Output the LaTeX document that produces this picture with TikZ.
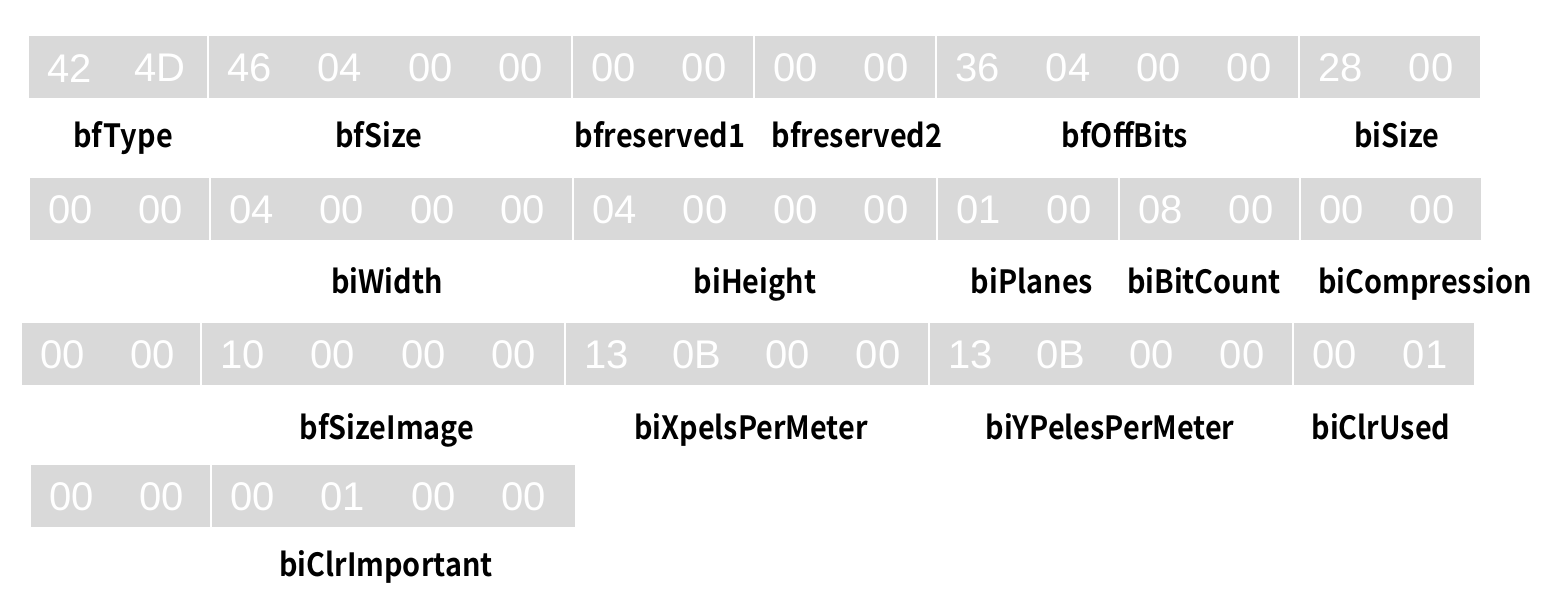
\documentclass[tikz,border=0pt]{standalone}
\usepackage{fontspec}
\usetikzlibrary{calc}
\newfontfamily\bytefont{Liberation Sans}
\newfontfamily\lblfont{Noto Sans CJK KR Bold}[FakeStretch=0.9]
\definecolor{cellgray}{HTML}{D9D9D9}

\tikzset{
  cell/.style={fill=cellgray, draw=none, inner sep=0pt, anchor=north west, minimum height=62pt},
  bytetext/.style={text=white, font=\bytefont\fontsize{40}{40}\selectfont, inner sep=0pt},
  fieldname/.style={text=black, font=\lblfont\fontsize{32}{34}\selectfont, inner sep=0pt, anchor=base},
}

% one field: name, left x, right x, top y, byte values
\newcommand\fieldcell[5]{%
  \node[cell, minimum width={(#3-#2)*1pt}] (#1) at (#2,#4) {};
  \foreach \b [count=\i] in {#5}
    \node[bytetext] (#1-\i) at ($(#1.west)+(\i*90.5-50,1)$) {\b};
}

\begin{document}
\begin{tikzpicture}[x=1pt,y=-1pt]
\useasboundingbox (0,0) rectangle (1548,600);

% row 1
\fieldcell{bfType}{29}{207}{36}{42,4D}
\fieldcell{bfSize}{209}{571}{36}{46,04,00,00}
\fieldcell{bfReservedA}{573}{753}{36}{00,00}
\fieldcell{bfReservedB}{755}{935}{36}{00,00}
\fieldcell{bfOffBits}{937}{1298}{36}{36,04,00,00}
\fieldcell{biSize}{1300}{1480}{36}{28,00}

\node[fieldname] (n-bfType) at (123,147) {bfType};
\node[fieldname] (n-bfSize) at (379,147) {bfSize};
\node[fieldname] (n-bfReservedA) at (660,147) {bfreserved1};
\node[fieldname] (n-bfReservedB) at (857,147) {bfreserved2};
\node[fieldname] (n-bfOffBits) at (1125,147) {bfOffBits};
\node[fieldname] (n-biSize) at (1397,147) {biSize};

% row 2
\fieldcell{biSizeTail}{30}{209}{178}{00,00}
\fieldcell{biWidth}{211}{572}{178}{04,00,00,00}
\fieldcell{biHeight}{574}{936}{178}{04,00,00,00}
\fieldcell{biPlanes}{938}{1118}{178}{01,00}
\fieldcell{biBitCount}{1120}{1299}{178}{08,00}
\fieldcell{biCompression}{1301}{1481}{178}{00,00}

\node[fieldname] (n-biWidth) at (387,293) {biWidth};
\node[fieldname] (n-biHeight) at (755,293) {biHeight};
\node[fieldname] (n-biPlanes) at (1032,293) {biPlanes};
\node[fieldname] (n-biBitCount) at (1204,293) {biBitCount};
\node[fieldname] (n-biCompression) at (1425,293) {biCompression};

% row 3
\fieldcell{biCompressionTail}{22}{200}{323}{00,00}
\fieldcell{bfSizeImage}{202}{564}{323}{10,00,00,00}
\fieldcell{biXpels}{566}{928}{323}{13,0B,00,00}
\fieldcell{biYpels}{930}{1292}{323}{13,0B,00,00}
\fieldcell{biClrUsed}{1294}{1474}{323}{00,01}

\node[fieldname] (n-bfSizeImage) at (387,439) {bfSizeImage};
\node[fieldname] (n-biXpels) at (751,439) {biXpelsPerMeter};
\node[fieldname] (n-biYpels) at (1110,439) {biYPelesPerMeter};
\node[fieldname] (n-biClrUsed) at (1381,439) {biClrUsed};

% row 4
\fieldcell{biClrUsedTail}{31}{210}{465}{00,00}
\fieldcell{biClrImportant}{212}{575}{465}{00,01,00,00}

\node[fieldname] (n-biClrImportant) at (386,576) {biClrImportant};
\end{tikzpicture}
\end{document}
